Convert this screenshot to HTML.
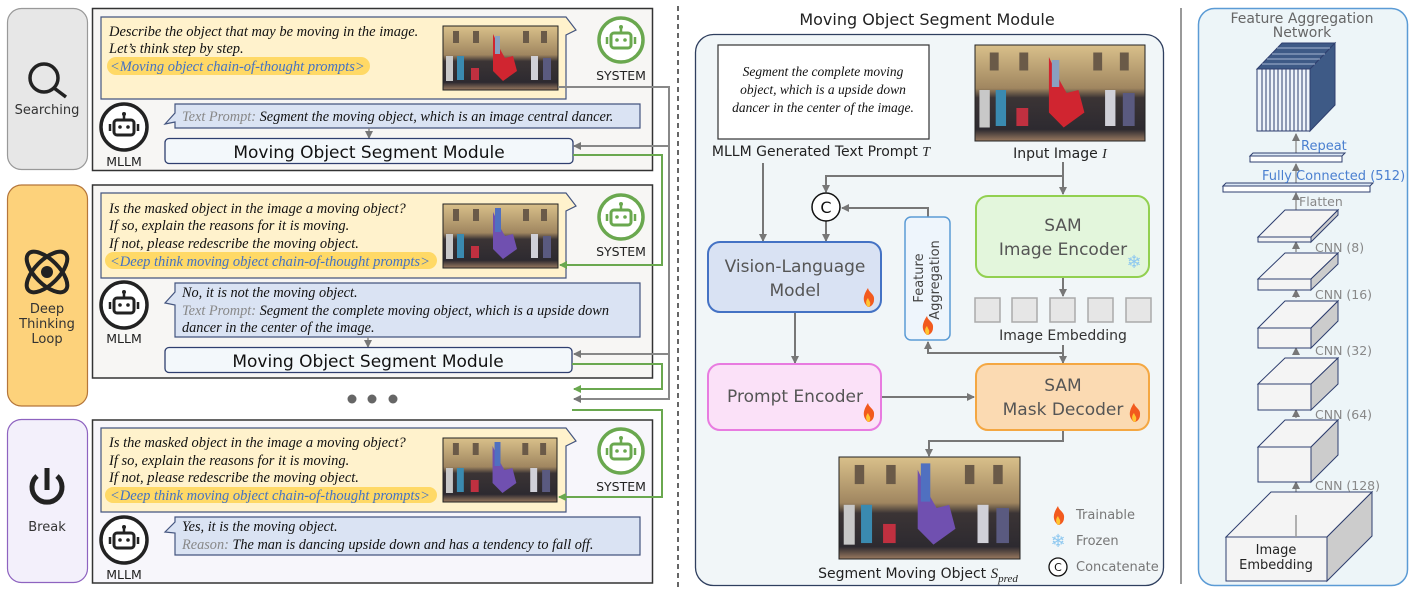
<!DOCTYPE html>
<html><head><meta charset="utf-8"><style>
html,body{margin:0;padding:0;background:#fff}
svg{display:block}
.sans{font-family:"DejaVu Sans","Liberation Sans",sans-serif}
.ser{font-family:"Liberation Serif",serif;font-style:italic}
</style></head><body>
<svg width="1412" height="591" viewBox="0 0 1412 591" xmlns="http://www.w3.org/2000/svg">
<defs>
<linearGradient id="sky" x1="0" y1="0" x2="0" y2="1">
<stop offset="0" stop-color="#d9c08a"/><stop offset="0.45" stop-color="#a08660"/><stop offset="0.55" stop-color="#3b3435"/><stop offset="0.88" stop-color="#2d2a30"/><stop offset="1" stop-color="#9a7a60"/></linearGradient>
<symbol id="photoR" viewBox="0 0 115 64" preserveAspectRatio="none">
<rect width="115" height="64" fill="url(#sky)"/>
<rect x="10" y="5" width="6" height="12" fill="#6a5a48"/><rect x="30" y="5" width="6" height="12" fill="#6a5a48"/><rect x="80" y="5" width="6" height="12" fill="#6a5a48"/><rect x="98" y="5" width="6" height="12" fill="#6a5a48"/>
<rect x="3" y="30" width="7" height="25" fill="#c8c8c8"/><rect x="14" y="30" width="7" height="24" fill="#3a8ab0"/><rect x="88" y="30" width="7" height="24" fill="#d0d0d8"/><rect x="100" y="32" width="8" height="22" fill="#5a5a80"/>
<rect x="28" y="42" width="8" height="12" fill="#c03040"/>
<path d="M50 8 L58 25 L62 32 L70 30 L74 45 L60 55 L50 45 Z" fill="#d02530"/><rect x="52" y="10" width="5" height="18" fill="#8aa0c0"/>
</symbol>
<symbol id="photoP" viewBox="0 0 115 64" preserveAspectRatio="none">
<rect width="115" height="64" fill="url(#sky)"/>
<rect x="10" y="5" width="6" height="12" fill="#6a5a48"/><rect x="30" y="5" width="6" height="12" fill="#6a5a48"/><rect x="80" y="5" width="6" height="12" fill="#6a5a48"/><rect x="98" y="5" width="6" height="12" fill="#6a5a48"/>
<rect x="3" y="30" width="7" height="25" fill="#c8c8c8"/><rect x="14" y="30" width="7" height="24" fill="#3a8ab0"/><rect x="88" y="30" width="7" height="24" fill="#d0d0d8"/><rect x="100" y="32" width="8" height="22" fill="#5a5a80"/>
<rect x="28" y="42" width="8" height="12" fill="#c03040"/>
<path d="M50 8 L58 25 L62 32 L70 30 L74 45 L60 55 L50 45 Z" fill="#7050b0"/><rect x="52" y="4" width="6" height="24" fill="#5070c0"/>
</symbol>
<g id="flame"><path d="M0 9 C-7 3 -4 -4 0 -10 C1 -5 7 -4 6 2 C6 6 3 9 0 9Z" fill="#f25a1e"/><path d="M0 9 C-3 6 -2 2 0 0 C1 3 3 4 2 7 C2 8 1 9 0 9Z" fill="#ffc531"/></g>
<g id="robotG"><circle r="22" fill="#fff" stroke="#6aa84f" stroke-width="3.5"/><rect x="-10" y="-7" width="20" height="15" rx="3" fill="none" stroke="#6aa84f" stroke-width="3"/><line x1="0" y1="-7" x2="0" y2="-12" stroke="#6aa84f" stroke-width="2.5"/><circle cx="0" cy="-13" r="2" fill="#6aa84f"/><circle cx="-4" cy="0" r="1.8" fill="#6aa84f"/><circle cx="4" cy="0" r="1.8" fill="#6aa84f"/><line x1="-14" y1="-3" x2="-14" y2="4" stroke="#6aa84f" stroke-width="2.5"/><line x1="14" y1="-3" x2="14" y2="4" stroke="#6aa84f" stroke-width="2.5"/></g>
<g id="robotK"><circle r="23" fill="#fff" stroke="#222" stroke-width="3.5"/><rect x="-10" y="-7" width="20" height="15" rx="3" fill="none" stroke="#222" stroke-width="3"/><line x1="0" y1="-7" x2="0" y2="-12" stroke="#222" stroke-width="2.5"/><circle cx="0" cy="-13" r="2" fill="#222"/><circle cx="-4" cy="0" r="1.8" fill="#222"/><circle cx="4" cy="0" r="1.8" fill="#222"/><line x1="-14" y1="-3" x2="-14" y2="4" stroke="#222" stroke-width="2.5"/><line x1="14" y1="-3" x2="14" y2="4" stroke="#222" stroke-width="2.5"/></g>
<marker id="ag" markerWidth="8" markerHeight="8" refX="7" refY="4" orient="auto" markerUnits="userSpaceOnUse"><path d="M0 0 L8 4 L0 8Z" fill="#777"/></marker>
<marker id="agr" markerWidth="8" markerHeight="8" refX="7" refY="4" orient="auto" markerUnits="userSpaceOnUse"><path d="M0 0 L8 4 L0 8Z" fill="#6aa84f"/></marker>
</defs>

<!-- LEFT stage boxes -->
<rect x="7.5" y="8.5" width="80" height="161" rx="14" fill="#e7e7e7" stroke="#999" stroke-width="1.2"/>
<circle cx="44" cy="78" r="14" fill="none" stroke="#222" stroke-width="3.5"/><line x1="54" y1="88" x2="66" y2="97" stroke="#222" stroke-width="3.5"/>
<text x="47" y="114" text-anchor="middle" class="sans" font-size="13" fill="#333">Searching</text>

<rect x="7.5" y="185" width="80" height="221" rx="14" fill="#fdd27b" stroke="#b5763a" stroke-width="1.2"/>
<g transform="translate(47,272)" fill="none" stroke="#222" stroke-width="4"><ellipse rx="26" ry="12" transform="rotate(45)"/><ellipse rx="26" ry="12" transform="rotate(-45)"/></g><circle cx="47" cy="272" r="6" fill="#222"/>
<text x="47" y="313" text-anchor="middle" class="sans" font-size="13" fill="#333">Deep</text>
<text x="47" y="328" text-anchor="middle" class="sans" font-size="13" fill="#333">Thinking</text>
<text x="47" y="343" text-anchor="middle" class="sans" font-size="13" fill="#333">Loop</text>

<rect x="7.5" y="419.5" width="80" height="163" rx="14" fill="#f3f0fb" stroke="#8e63c0" stroke-width="1.2"/>
<path d="M37 476 A15 15 0 1 0 57 476" fill="none" stroke="#222" stroke-width="5"/><line x1="47" y1="468" x2="47" y2="490" stroke="#222" stroke-width="5"/>
<text x="47" y="531" text-anchor="middle" class="sans" font-size="13" fill="#333">Break</text>

<!-- Panel 1 -->
<rect x="92.5" y="8.5" width="560" height="162" fill="#f7f6f4" stroke="#333" stroke-width="1.5"/>
<path d="M101 17 H566 L576 30 L566 35 V99 H101 Z" fill="#fff2cc" stroke="#44557f" stroke-width="1.2"/>
<text class="ser" font-size="14.5" fill="#111"><tspan x="109" y="36">Describe the object that may be moving in the image.</tspan><tspan x="109" y="53">Let’s think step by step.</tspan></text>
<rect x="107" y="57" width="263" height="18" rx="9" fill="#ffd966"/>
<text x="110" y="71" class="ser" font-size="14.5" fill="#4472c4">&lt;Moving object chain-of-thought prompts&gt;</text>
<use href="#photoR" x="443" y="26" width="115" height="64"/><rect x="443" y="26" width="115" height="64" fill="none" stroke="#222"/>
<use href="#robotG" x="621" y="40"/>
<text x="621" y="80" text-anchor="middle" class="sans" font-size="12.5" fill="#222">SYSTEM</text>
<use href="#robotK" x="124" y="127"/>
<text x="124" y="166" text-anchor="middle" class="sans" font-size="12.5" fill="#222">MLLM</text>
<path d="M175 104 H640 V128 H175 V122 L165 124 L175 113 Z" fill="#dae3f3" stroke="#44557f" stroke-width="1.2"/>
<text x="182" y="121" class="ser" font-size="14.3" fill="#111"><tspan fill="#888">Text Prompt: </tspan>Segment the moving object, which is an image central dancer.</text>
<line x1="369" y1="128" x2="369" y2="138" stroke="#888" stroke-width="1.5" marker-end="url(#ag)"/>
<rect x="165" y="138.5" width="408" height="25" rx="4" fill="#f3f8fb" stroke="#2f3f6f" stroke-width="1.3"/>
<text x="369" y="158" text-anchor="middle" class="sans" font-size="17" fill="#111">Moving Object Segment Module</text>

<!-- Panel 2 -->
<rect x="92.5" y="185" width="560" height="193" fill="#f7f6f4" stroke="#333" stroke-width="1.5"/>
<path d="M101 193 H566 L576 206 L566 211 V278 H101 Z" fill="#fff2cc" stroke="#44557f" stroke-width="1.2"/>
<text class="ser" font-size="14.5" fill="#111"><tspan x="109" y="213">Is the masked object in the image a moving object?</tspan><tspan x="109" y="230">If so, explain the reasons for it is moving.</tspan><tspan x="109" y="248">If not, please redescribe the moving object.</tspan></text>
<rect x="105" y="252" width="332" height="17" rx="8.5" fill="#ffd966"/>
<text x="110" y="266" class="ser" font-size="14.5" fill="#4472c4">&lt;Deep think moving object chain-of-thought prompts&gt;</text>
<use href="#photoP" x="443" y="204" width="115" height="64"/><rect x="443" y="204" width="115" height="64" fill="none" stroke="#222"/>
<use href="#robotG" x="621" y="217"/>
<text x="621" y="256" text-anchor="middle" class="sans" font-size="12.5" fill="#222">SYSTEM</text>
<use href="#robotK" x="124" y="305"/>
<text x="124" y="343" text-anchor="middle" class="sans" font-size="12.5" fill="#222">MLLM</text>
<path d="M175 283 H640 V337 H175 V305 L165 303 L175 292 Z" fill="#dae3f3" stroke="#44557f" stroke-width="1.2"/>
<text class="ser" font-size="14.3" fill="#111"><tspan x="182" y="297">No, it is not the moving object.</tspan><tspan x="182" y="315"><tspan fill="#888">Text Prompt: </tspan>Segment the complete moving object, which is a upside down</tspan><tspan x="182" y="332">dancer in the center of the image.</tspan></text>
<line x1="368" y1="337" x2="368" y2="347" stroke="#888" stroke-width="1.5" marker-end="url(#ag)"/>
<rect x="165" y="347.5" width="407" height="25" rx="4" fill="#f3f8fb" stroke="#2f3f6f" stroke-width="1.3"/>
<text x="368" y="367" text-anchor="middle" class="sans" font-size="17" fill="#111">Moving Object Segment Module</text>

<circle cx="352" cy="399" r="4.5" fill="#666"/><circle cx="372" cy="399" r="4.5" fill="#666"/><circle cx="393" cy="399" r="4.5" fill="#666"/>

<!-- Panel 3 -->
<rect x="92.5" y="420" width="560" height="163" fill="#f7f6fb" stroke="#333" stroke-width="1.5"/>
<path d="M101 428 H566 L576 441 L566 446 V512 H101 Z" fill="#fff2cc" stroke="#44557f" stroke-width="1.2"/>
<text class="ser" font-size="14.5" fill="#111"><tspan x="109" y="447">Is the masked object in the image a moving object?</tspan><tspan x="109" y="465">If so, explain the reasons for it is moving.</tspan><tspan x="109" y="482">If not, please redescribe the moving object.</tspan></text>
<rect x="105" y="487" width="332" height="16" rx="8" fill="#ffd966"/>
<text x="110" y="500" class="ser" font-size="14.5" fill="#4472c4">&lt;Deep think moving object chain-of-thought prompts&gt;</text>
<use href="#photoP" x="443" y="438" width="114" height="64"/><rect x="443" y="438" width="114" height="64" fill="none" stroke="#222"/>
<use href="#robotG" x="621" y="451"/>
<text x="621" y="491" text-anchor="middle" class="sans" font-size="12.5" fill="#222">SYSTEM</text>
<use href="#robotK" x="124" y="540"/>
<text x="124" y="579" text-anchor="middle" class="sans" font-size="12.5" fill="#222">MLLM</text>
<path d="M175 517 H640 V555 H175 V533 L165 532 L175 522 Z" fill="#dae3f3" stroke="#44557f" stroke-width="1.2"/>
<text class="ser" font-size="14.3" fill="#111"><tspan x="182" y="531">Yes, it is the moving object.</tspan><tspan x="182" y="549"><tspan fill="#888">Reason: </tspan>The man is dancing upside down and has a tendency to fall off.</tspan></text>

<!-- connectors left -->
<g fill="none" stroke-width="2">
<path d="M558 87 H669 V399 H574" stroke="#888" marker-end="url(#ag)"/>
<path d="M669 146 H574" stroke="#888" marker-end="url(#ag)"/>
<path d="M669 354 H574" stroke="#888" marker-end="url(#ag)"/>
<path d="M573 155 H662 V265 H560" stroke="#6aa84f" marker-end="url(#agr)"/>
<path d="M572 364 H662 V389 H574" stroke="#6aa84f" marker-end="url(#agr)"/>
<path d="M572 410 H662 V497 H559" stroke="#6aa84f" marker-end="url(#agr)"/>
</g>
<line x1="678" y1="6" x2="678" y2="588" stroke="#333" stroke-width="1.5" stroke-dasharray="5 4"/>

<!-- MIDDLE -->
<text x="927" y="25" text-anchor="middle" class="sans" font-size="16" fill="#222">Moving Object Segment Module</text>
<rect x="695.5" y="34.5" width="468" height="551" rx="18" fill="#f1f6f8" stroke="#2f3f5f" stroke-width="1.3"/>
<rect x="718" y="45" width="211" height="94" fill="#fff" stroke="#333" stroke-width="1.2"/>
<text text-anchor="middle" class="ser" font-size="13.5" fill="#111"><tspan x="823" y="76">Segment the complete moving</tspan><tspan x="823" y="94">object, which is a upside down</tspan><tspan x="823" y="112">dancer in the center of the image.</tspan></text>
<text x="821" y="156" text-anchor="middle" class="sans" font-size="14" fill="#222">MLLM Generated Text Prompt <tspan class="ser" font-family="Liberation Serif">T</tspan></text>
<use href="#photoR" x="975" y="45" width="170" height="96"/><rect x="975" y="45" width="170" height="96" fill="none" stroke="#222"/>
<text x="1060" y="158" text-anchor="middle" class="sans" font-size="14" fill="#222">Input Image <tspan font-family="Liberation Serif" font-style="italic">I</tspan></text>

<g fill="none" stroke="#777" stroke-width="2">
<path d="M1063 162 V194" marker-end="url(#ag)"/>
<path d="M1063 176 H826 V192" marker-end="url(#ag)"/>
<path d="M763 163 V241" marker-end="url(#ag)"/>
<path d="M826 221 V241" marker-end="url(#ag)"/>
<path d="M928 217 V208 H842" marker-end="url(#ag)"/>
<path d="M1063 277 V296" marker-end="url(#ag)"/>
<path d="M1063 345 V363" marker-end="url(#ag)"/>
<path d="M1063 353 H928 V342" marker-end="url(#ag)"/>
<path d="M795 312 V363" marker-end="url(#ag)"/>
<path d="M881 397 H974" marker-end="url(#ag)"/>
<path d="M1063 430 V441 H929 V456" marker-end="url(#ag)"/>
</g>
<circle cx="826" cy="207" r="14" fill="#fff" stroke="#111" stroke-width="1.5"/>
<text x="826" y="213" text-anchor="middle" class="sans" font-size="16" fill="#111">C</text>

<rect x="905" y="217" width="45" height="123" rx="6" fill="#eef5fc" stroke="#5b9bd5" stroke-width="1.5"/>
<text transform="translate(923,278) rotate(-90)" text-anchor="middle" class="sans" font-size="13" fill="#444">Feature</text>
<text transform="translate(939,280) rotate(-90)" text-anchor="middle" class="sans" font-size="13" fill="#444">Aggregation</text>
<use href="#flame" x="927" y="326"/>

<rect x="708" y="242" width="173" height="70" rx="12" fill="#d9e2f3" stroke="#4472c4" stroke-width="2"/>
<text x="795" y="272" text-anchor="middle" class="sans" font-size="17" fill="#555">Vision-Language</text>
<text x="795" y="296" text-anchor="middle" class="sans" font-size="17" fill="#555">Model</text>
<use href="#flame" x="868" y="298"/>

<rect x="976" y="196" width="173" height="81" rx="12" fill="#e3f6dc" stroke="#92d050" stroke-width="2"/>
<text x="1063" y="231" text-anchor="middle" class="sans" font-size="17" fill="#555">SAM</text>
<text x="1063" y="255" text-anchor="middle" class="sans" font-size="17" fill="#555">Image Encoder</text>
<text x="1134" y="268" text-anchor="middle" font-family="DejaVu Sans" font-size="18" fill="#8ec8f0">❄</text>

<g fill="#e6e6e6" stroke="#aaa" stroke-width="1.5">
<rect x="975" y="298" width="25" height="24"/><rect x="1012" y="298" width="25" height="24"/><rect x="1050" y="298" width="25" height="24"/><rect x="1088" y="298" width="25" height="24"/><rect x="1126" y="298" width="25" height="24"/></g>
<text x="1063" y="340" text-anchor="middle" class="sans" font-size="14" fill="#333">Image Embedding</text>

<rect x="708" y="364" width="173" height="66" rx="12" fill="#fbe1f8" stroke="#e87be0" stroke-width="2"/>
<text x="795" y="402" text-anchor="middle" class="sans" font-size="17" fill="#555">Prompt Encoder</text>
<use href="#flame" x="868" y="413"/>
<rect x="976" y="364" width="173" height="66" rx="12" fill="#fbdab2" stroke="#f4a742" stroke-width="2"/>
<text x="1063" y="391" text-anchor="middle" class="sans" font-size="17" fill="#555">SAM</text>
<text x="1063" y="415" text-anchor="middle" class="sans" font-size="17" fill="#555">Mask Decoder</text>
<use href="#flame" x="1134" y="413"/>

<use href="#photoP" x="839" y="457" width="181" height="102"/><rect x="839" y="457" width="181" height="102" fill="none" stroke="#222"/>
<text x="918" y="578" text-anchor="middle" class="sans" font-size="14" fill="#222">Segment Moving Object <tspan font-family="Liberation Serif" font-style="italic" font-size="15">S</tspan><tspan font-family="Liberation Serif" font-style="italic" font-size="11" dy="4">pred</tspan></text>

<use href="#flame" x="1058" y="516"/>
<text x="1076" y="519" class="sans" font-size="13" fill="#777">Trainable</text>
<text x="1058" y="547" text-anchor="middle" font-family="DejaVu Sans" font-size="18" fill="#8ec8f0">❄</text>
<text x="1076" y="545" class="sans" font-size="13" fill="#777">Frozen</text>
<circle cx="1058" cy="567" r="9" fill="#fff" stroke="#111" stroke-width="1.3"/>
<text x="1058" y="571" text-anchor="middle" class="sans" font-size="11" fill="#111">C</text>
<text x="1076" y="571" class="sans" font-size="13" fill="#777">Concatenate</text>

<line x1="1181" y1="8" x2="1181" y2="584" stroke="#999" stroke-width="2"/>

<!-- RIGHT -->
<rect x="1198.5" y="8.5" width="209" height="577" rx="16" fill="#edf5f8" stroke="#5b9bd5" stroke-width="1.5"/>
<text x="1302" y="23" text-anchor="middle" class="sans" font-size="14" fill="#666">Feature Aggregation</text>
<text x="1302" y="37" text-anchor="middle" class="sans" font-size="14" fill="#666">Network</text>
<g stroke="#2f3f6f" stroke-width="1">
<polygon points="1257,69 1282,43 1335,43 1310,69" fill="#3e5a86"/>
<polygon points="1310,69 1335,43 1335,105 1310,131" fill="#3e5a86"/>
<rect x="1257" y="69" width="53" height="62" fill="#eef3fa"/>
</g>
<g stroke="#2f3f6f" stroke-width="1">
<line x1="1262" y1="69" x2="1262" y2="131"/><line x1="1266" y1="69" x2="1266" y2="131"/><line x1="1270" y1="69" x2="1270" y2="131"/><line x1="1274" y1="69" x2="1274" y2="131"/><line x1="1278" y1="69" x2="1278" y2="131"/><line x1="1282" y1="69" x2="1282" y2="131"/><line x1="1286" y1="69" x2="1286" y2="131"/><line x1="1290" y1="69" x2="1290" y2="131"/><line x1="1294" y1="69" x2="1294" y2="131"/><line x1="1298" y1="69" x2="1298" y2="131"/><line x1="1302" y1="69" x2="1302" y2="131"/><line x1="1306" y1="69" x2="1306" y2="131"/>
</g>
<g stroke="#c8d6ea" stroke-width="0.7"><line x1="1262" y1="64" x2="1315" y2="64"/><line x1="1267" y1="59" x2="1320" y2="59"/><line x1="1272" y1="54" x2="1325" y2="54"/><line x1="1277" y1="48" x2="1330" y2="48"/></g>

<g stroke="#999" stroke-width="1.5" fill="none">
<path d="M1296 153 V134" marker-end="url(#ag)"/>
<path d="M1296 184 V164" marker-end="url(#ag)"/>
<path d="M1296 213 V193" marker-end="url(#ag)"/>
<path d="M1296 252 V242" marker-end="url(#ag)"/>
<path d="M1296 298 V290" marker-end="url(#ag)"/>
<path d="M1296 355 V348" marker-end="url(#ag)"/>
<path d="M1296 418 V410" marker-end="url(#ag)"/>
<path d="M1296 515 V482" marker-end="url(#ag)"/>
</g>
<text x="1301" y="150" class="sans" font-size="13" fill="#4a7fd0">Repeat</text>
<g stroke="#2f3f6f" stroke-width="1" fill="#dce8f6">
<polygon points="1250,156 1253,153 1345,153 1342,156"/><rect x="1250" y="156" width="92" height="6" fill="#fff"/>
<polygon points="1223,186 1226,183 1373,183 1370,186"/><rect x="1223" y="186" width="147" height="6" fill="#fff"/>
</g>
<text x="1262" y="180" class="sans" font-size="13" fill="#4a7fd0">Fully Connected (512)</text>
<text x="1299" y="206" class="sans" font-size="12.5" fill="#888">Flatten</text>

<g stroke="#2f3f6f" stroke-width="1">
<polygon points="1258,237 1285,210 1338,210 1311,237" fill="#f4f4f4"/><polygon points="1311,237 1338,210 1338,215 1311,242" fill="#ccc"/><rect x="1258" y="237" width="53" height="5" fill="#f4f4f4"/>
<polygon points="1258,279 1285,253 1338,253 1311,279" fill="#f4f4f4"/><polygon points="1311,279 1338,253 1338,264 1311,290" fill="#ccc"/><rect x="1258" y="279" width="53" height="11" fill="#f4f4f4"/>
<polygon points="1258,328 1285,301 1338,301 1311,328" fill="#f4f4f4"/><polygon points="1311,328 1338,301 1338,321 1311,348" fill="#ccc"/><rect x="1258" y="328" width="53" height="20" fill="#f4f4f4"/>
<polygon points="1258,384 1285,358 1338,358 1311,384" fill="#f4f4f4"/><polygon points="1311,384 1338,358 1338,384 1311,410" fill="#ccc"/><rect x="1258" y="384" width="53" height="26" fill="#f4f4f4"/>
<polygon points="1258,447 1285,420 1338,420 1311,447" fill="#f4f4f4"/><polygon points="1311,447 1338,420 1338,455 1311,482" fill="#ccc"/><rect x="1258" y="447" width="53" height="35" fill="#f4f4f4"/>
<polygon points="1226,537 1271,492 1372,492 1327,537" fill="#f4f4f4"/><polygon points="1327,537 1372,492 1372,536 1327,581" fill="#ccc"/><rect x="1226" y="537" width="101" height="44" fill="#f4f4f4"/>
</g>
<line x1="1296" y1="515" x2="1296" y2="537" stroke="#999" stroke-width="1.5"/>
<g class="sans" font-size="12.5" fill="#888">
<text x="1315" y="252">CNN (8)</text><text x="1315" y="299">CNN (16)</text><text x="1315" y="355">CNN (32)</text><text x="1315" y="419">CNN (64)</text><text x="1315" y="490">CNN (128)</text></g>
<text x="1276" y="554" text-anchor="middle" class="sans" font-size="13" fill="#222">Image</text>
<text x="1276" y="569" text-anchor="middle" class="sans" font-size="13" fill="#222">Embedding</text>
</svg>
</body></html>
